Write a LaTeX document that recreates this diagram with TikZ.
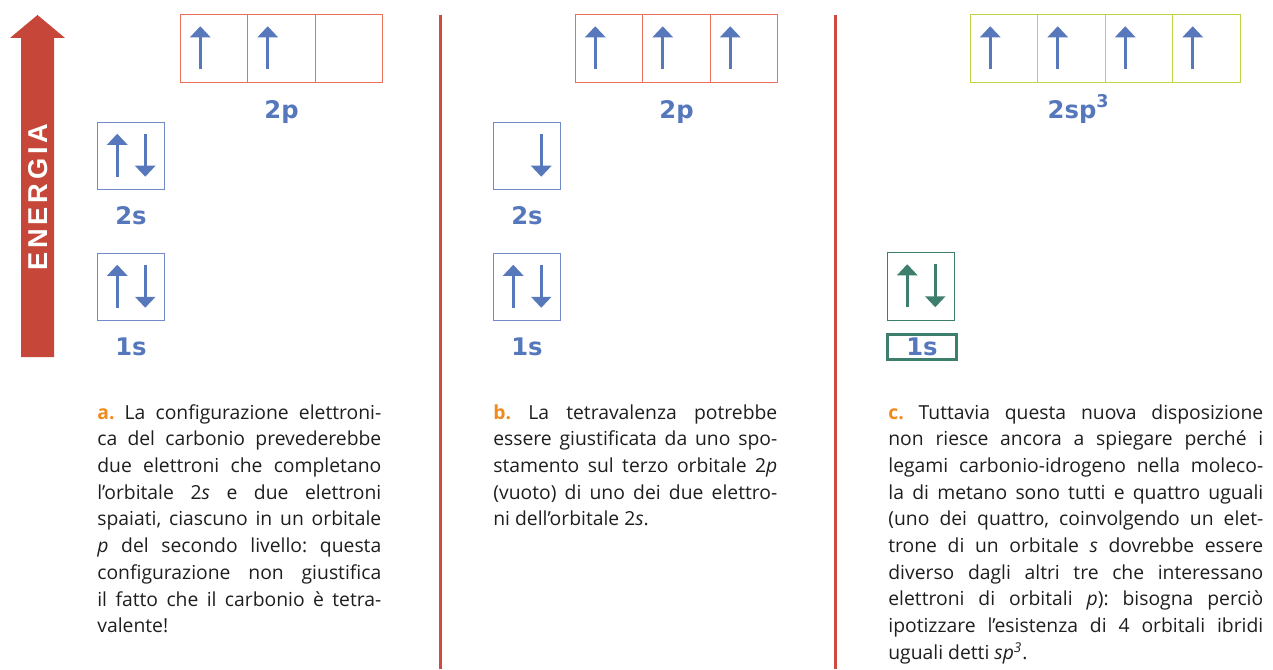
\documentclass[tikz,border=0pt]{standalone}
\usepackage{fontspec}
\setmainfont{Open Sans}
\newfontfamily\lblfont{DejaVu Sans}
\newfontfamily\energyfont[LetterSpace=14]{Liberation Sans}
\usepackage{tikz}
\usetikzlibrary{arrows.meta}
\usetikzlibrary{positioning}

\definecolor{lblblue}{HTML}{5577BC}
\definecolor{spinblue}{HTML}{5778BA}
\definecolor{boxblue}{HTML}{6F8CC9}
\definecolor{boxred}{HTML}{E8705C}
\definecolor{boxgreen}{HTML}{BCD545}
\definecolor{teal}{HTML}{3D7F6C}
\definecolor{energyred}{HTML}{C6473A}
\definecolor{rulered}{HTML}{CF4B3F}
\definecolor{tagorange}{HTML}{F08A1E}
\definecolor{txtgray}{HTML}{1E1E1E}

% electron arrows inside an orbital box
\newcommand{\spinup}[2][spinblue]{\draw[spin, #1] ([xshift=0.4cm,yshift=0.26cm]#2.south west) -- ([xshift=0.4cm,yshift=1.12cm]#2.south west);}
\newcommand{\spindown}[2][spinblue]{\draw[spin, #1] ([xshift=0.96cm,yshift=1.12cm]#2.south west) -- ([xshift=0.96cm,yshift=0.26cm]#2.south west);}
\newcommand{\tag}[1]{\textcolor{tagorange}{\textbf{#1}}}

\begin{document}
\begin{tikzpicture}[x=0.02cm, y=-0.02cm]
  \tikzset{orb/.style={draw=#1, line width=0.7pt, minimum size=1.35cm, inner sep=0pt, outer sep=0pt},
           spin/.style={line width=1.5pt, -{Triangle[width=0.4cm, length=0.22cm]}},
           lbl/.style={anchor=base, text=lblblue, font=\lblfont\bfseries\fontsize{13.8}{15}\selectfont},
           txt/.style={anchor=north west, inner sep=0pt, align=justify, text=txtgray,
                       font=\fontsize{11}{15.2}\selectfont\frenchspacing},
           rule/.style={rulered, line width=1.7pt}}
  \useasboundingbox (0,0) rectangle (1273,669);

  %--- energy axis ---
  \fill[energyred] (21,357) -- (21,38) -- (10,38) -- (37.5,15) -- (65,38) -- (54,38) -- (54,357) -- cycle;
  \node[rotate=90, text=white, font=\energyfont\bfseries\fontsize{15.5}{16}\selectfont] (energia) at (38,197) {ENERGIA};

  %--- separators ---
  \draw[rule] (440,15) -- (440,669);
  \draw[rule] (835,15) -- (835,669);

  %--- a: ground state ---
  \node[orb=boxred] (a2p1) at (214,48.5) {};
  \node[orb=boxred, right=0pt of a2p1] (a2p2) {};
  \node[orb=boxred, right=0pt of a2p2] (a2p3) {};
  \node[orb=boxblue] (a2s) at (131,156) {};
  \node[orb=boxblue] (a1s) at (131,287) {};
  \spinup{a2p1} \spinup{a2p2}
  \spinup{a2s} \spindown{a2s}
  \spinup{a1s} \spindown{a1s}
  \node[lbl] at ([yshift=-0.72cm]a2p2.south) {2p};
  \node[lbl] at ([yshift=-0.7cm]a2s.south) {2s};
  \node[lbl] at ([yshift=-0.7cm]a1s.south) {1s};

  %--- b: promoted electron ---
  \node[orb=boxred] (b2p1) at (609,48.5) {};
  \node[orb=boxred, right=0pt of b2p1] (b2p2) {};
  \node[orb=boxred, right=0pt of b2p2] (b2p3) {};
  \node[orb=boxblue] (b2s) at (527,156) {};
  \node[orb=boxblue] (b1s) at (527,287) {};
  \spinup{b2p1} \spinup{b2p2} \spinup{b2p3}
  \spindown{b2s}
  \spinup{b1s} \spindown{b1s}
  \node[lbl] at ([yshift=-0.72cm]b2p2.south) {2p};
  \node[lbl] at ([yshift=-0.7cm]b2s.south) {2s};
  \node[lbl] at ([yshift=-0.7cm]b1s.south) {1s};

  %--- c: sp3 hybrids ---
  \node[orb=boxgreen] (c2sp1) at (1004,48.5) {};
  \node[orb=boxgreen, right=0pt of c2sp1] (c2sp2) {};
  \node[orb=boxgreen, right=0pt of c2sp2] (c2sp3) {};
  \node[orb=boxgreen, right=0pt of c2sp3] (c2sp4) {};
  \node[orb=teal] (c1s) at (921,286.5) {};
  \spinup{c2sp1} \spinup{c2sp2} \spinup{c2sp3} \spinup{c2sp4}
  \spinup[teal]{c1s} \spindown[teal]{c1s}
  \node[lbl, anchor=base west] at ([xshift=-0.6cm,yshift=-0.72cm]c2sp2.south) {2sp\raisebox{0.45em}{\fontsize{10}{10}\selectfont 3}};
  \node[lbl, anchor=center, draw=teal, line width=1.6pt, minimum width=1.38cm, minimum height=0.5cm, inner sep=0pt] (c1slbl) at (922,347) {1s};

  %--- captions ---
  \node[txt, text width=5.68cm] (atext) at (97,404) {\tag{a.} La configurazione elettroni-\linebreak
    ca del carbonio prevederebbe\linebreak
    due elettroni che completano\linebreak
    l’orbitale 2\textit{s} e due elettroni\linebreak
    spaiati, ciascuno in un orbitale\linebreak
    \textit{p} del secondo livello: questa\linebreak
    configurazione non giustifica\linebreak
    il fatto che il carbonio è tetra-\linebreak
    valente!};
  \node[txt, text width=5.68cm] (btext) at (493,404) {\tag{b.} La tetravalenza potrebbe\linebreak
    essere giustificata da uno spo-\linebreak
    stamento sul terzo orbitale 2\textit{p}\linebreak
    (vuoto) di uno dei due elettro-\linebreak
    ni dell’orbitale 2\textit{s}.};
  \node[txt, text width=7.5cm] (ctext) at (888,404) {\tag{c.} Tuttavia questa nuova disposizione\linebreak
    non riesce ancora a spiegare perché i\linebreak
    legami carbonio-idrogeno nella moleco-\linebreak
    la di metano sono tutti e quattro uguali\linebreak
    (uno dei quattro, coinvolgendo un elet-\linebreak
    trone di un orbitale \textit{s} dovrebbe essere\linebreak
    diverso dagli altri tre che interessano\linebreak
    elettroni di orbitali \textit{p}): bisogna perciò\linebreak
    ipotizzare l’esistenza di 4 orbitali ibridi\linebreak
    uguali detti \textit{sp\textsuperscript{3}}.};
\end{tikzpicture}
\end{document}
